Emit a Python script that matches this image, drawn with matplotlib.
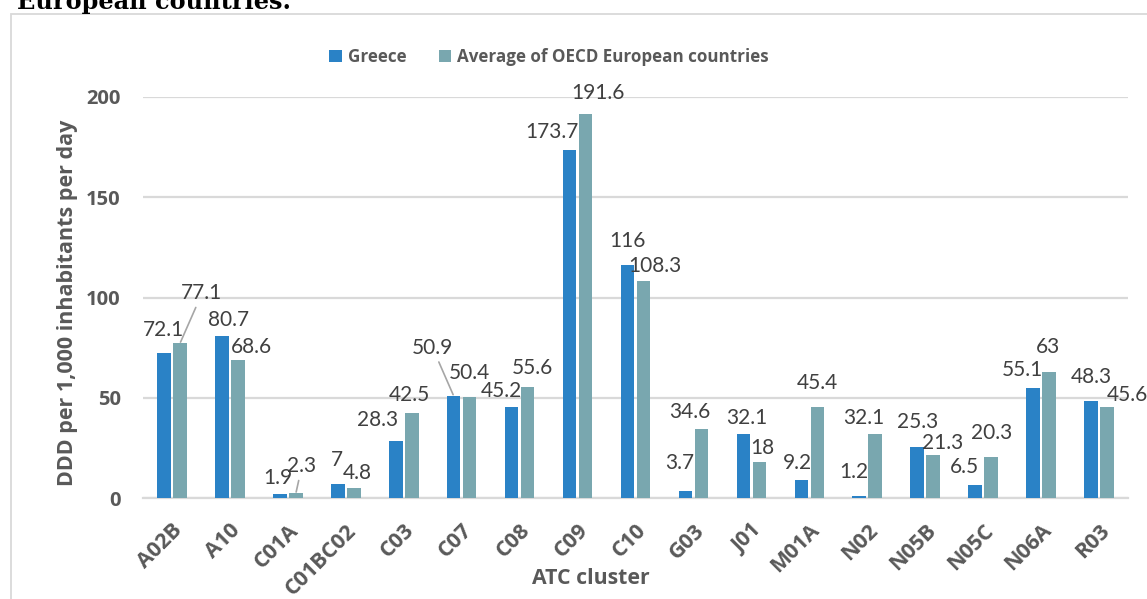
import matplotlib
matplotlib.use("Agg")
import matplotlib.pyplot as plt
from matplotlib.patches import Rectangle
from matplotlib.transforms import ScaledTranslation
import numpy as np

# ATC clusters and DDD per 1,000 inhabitants per day
categories = ["A02B", "A10", "C01A", "C01BC02", "C03", "C07", "C08", "C09", "C10",
              "G03", "J01", "M01A", "N02", "N05B", "N05C", "N06A", "R03"]
greece = [72.1, 80.7, 1.9, 7, 28.3, 50.9, 45.2, 173.7, 116,
          3.7, 32.1, 9.2, 1.2, 25.3, 6.5, 55.1, 48.3]
oecd_avg = [77.1, 68.6, 2.3, 4.8, 42.5, 50.4, 55.6, 191.6, 108.3,
            34.6, 18, 45.4, 32.1, 21.3, 20.3, 63, 45.6]
series_names = ["Greece", "Average of OECD European countries"]
y_ticks = [0, 50, 100, 150, 200]

# Label placement (pixel offsets of label centre from bar top) and leader lines
greece_offsets = [(0, 23), (7, 16), (-2, 16), (-1, 24), (-18, 21), (-21, 48), (-10, 16),
                  (-18, 18), (0, 24), (-6, 28), (3, 16), (-4, 17), (-5, 24), (0, 25),
                  (-11, 18), (-11, 18), (0, 24)]
avg_offsets = [(22, 50), (14, 13), (6, 27), (3, 15), (-2, 18), (0, 24), (5, 19),
               (12, 21), (11, 15), (-12, 17), (3, 14), (0, 24), (-11, 16), (9, 12),
               (0, 24), (-1, 25), (20, 12)]
greece_leaders = {5}
avg_leaders = {0, 2}

BLUE = "#2A82C6"
TEAL = "#79A7AF"
GRID = "#D9D9D9"
TICK = "#595959"
LABEL = "#404040"
BOLD_FONT = "Open Sans"
VALUE_FONT = "Lato"

W, H = 1147, 599
fig = plt.figure(figsize=(W / 100, H / 100), dpi=100)

# chart frame
fig.patches.append(Rectangle((11 / W, -0.1), 1.2, 1.1 - 14 / H, transform=fig.transFigure,
                             fill=False, edgecolor=GRID, linewidth=1.3))

# heading line above the chart (partly outside the canvas)
fig.text(17 / W, 1 - 9.5 / H, "European countries.", fontsize=17.3, fontweight="bold",
         family="DejaVu Serif", color="black", ha="left", va="baseline")

ax = fig.add_axes([143 / W, 1 - 498 / H, (1128 - 143) / W, (498 - 97) / H])
x = np.arange(len(categories))
bw = 0.235
off = 0.138
b1 = ax.bar(x - off, greece, width=bw, color=BLUE, label=series_names[0], zorder=3)
b2 = ax.bar(x + off, oecd_avg, width=bw, color=TEAL, label=series_names[1], zorder=3)

ax.set_xlim(-0.5, len(categories) - 0.5)
ax.set_ylim(0, 200)
ax.set_yticks(y_ticks)
ax.yaxis.grid(True, color=GRID, linewidth=1.6, zorder=0)
for s in ["top", "right", "left"]:
    ax.spines[s].set_visible(False)
ax.spines["bottom"].set_color(GRID)
ax.spines["bottom"].set_linewidth(1.6)
ax.tick_params(axis="both", length=0, colors=TICK)
ax.tick_params(axis="y", pad=16)
ax.set_yticklabels([str(v) for v in y_ticks], fontsize=14.5, fontweight="bold",
                   family=BOLD_FONT, color=TICK)

# slanted category names hanging below the axis
ax.set_xticks(x)
ax.set_xticklabels([""] * len(categories))
cat_trans = ax.get_xaxis_transform() + ScaledTranslation(0, -22 / 100, fig.dpi_scale_trans)
for xi, name in zip(x, categories):
    ax.text(xi, 0, name, transform=cat_trans, rotation=45, rotation_mode="anchor",
            ha="right", va="top", fontsize=15.5, fontweight="bold",
            family=BOLD_FONT, color=TICK, clip_on=False)


def fmt(v):
    return f"{v:g}"


def put_labels(bars, values, offsets, leaders):
    for i, (bar, v) in enumerate(zip(bars, values)):
        cx = bar.get_x() + bar.get_width() / 2
        dx, dy = offsets[i]
        kw = {}
        if i in leaders:
            kw["arrowprops"] = dict(arrowstyle="-", color="#A6A6A6", lw=1.2,
                                    shrinkA=1, shrinkB=1)
        ax.annotate(fmt(v), xy=(cx, v), xytext=(dx, dy), textcoords="offset pixels",
                    ha="center", va="center", fontsize=15, family=VALUE_FONT,
                    color=LABEL, annotation_clip=False, zorder=5, **kw)


put_labels(b1, greece, greece_offsets, greece_leaders)
put_labels(b2, oecd_avg, avg_offsets, avg_leaders)

ax.set_ylabel("DDD per 1,000 inhabitants per day", fontsize=15.5, fontweight="bold",
              family=BOLD_FONT, color=TICK)
ax.yaxis.set_label_coords(-(143 - 68) / (1128 - 143), (498 - 303) / (498 - 97))
ax.set_xlabel("ATC cluster", fontsize=15.3, fontweight="bold", family=BOLD_FONT,
              color=TICK)
ax.xaxis.set_label_coords((591 - 143) / (1128 - 143), -(578 - 498) / (498 - 97))
ax.xaxis.label.set_va("center")
ax.yaxis.label.set_va("center")

leg = fig.legend(handles=[b1, b2], labels=series_names, loc="center",
                 bbox_to_anchor=(549 / W, 1 - 57 / H), ncol=2, frameon=False,
                 prop={"family": BOLD_FONT, "weight": "bold", "size": 12.25},
                 handlelength=0.75, handleheight=0.75, handletextpad=0.35,
                 columnspacing=1.9)
for t in leg.get_texts():
    t.set_color(TICK)

fig.savefig("out.png", dpi=100)
